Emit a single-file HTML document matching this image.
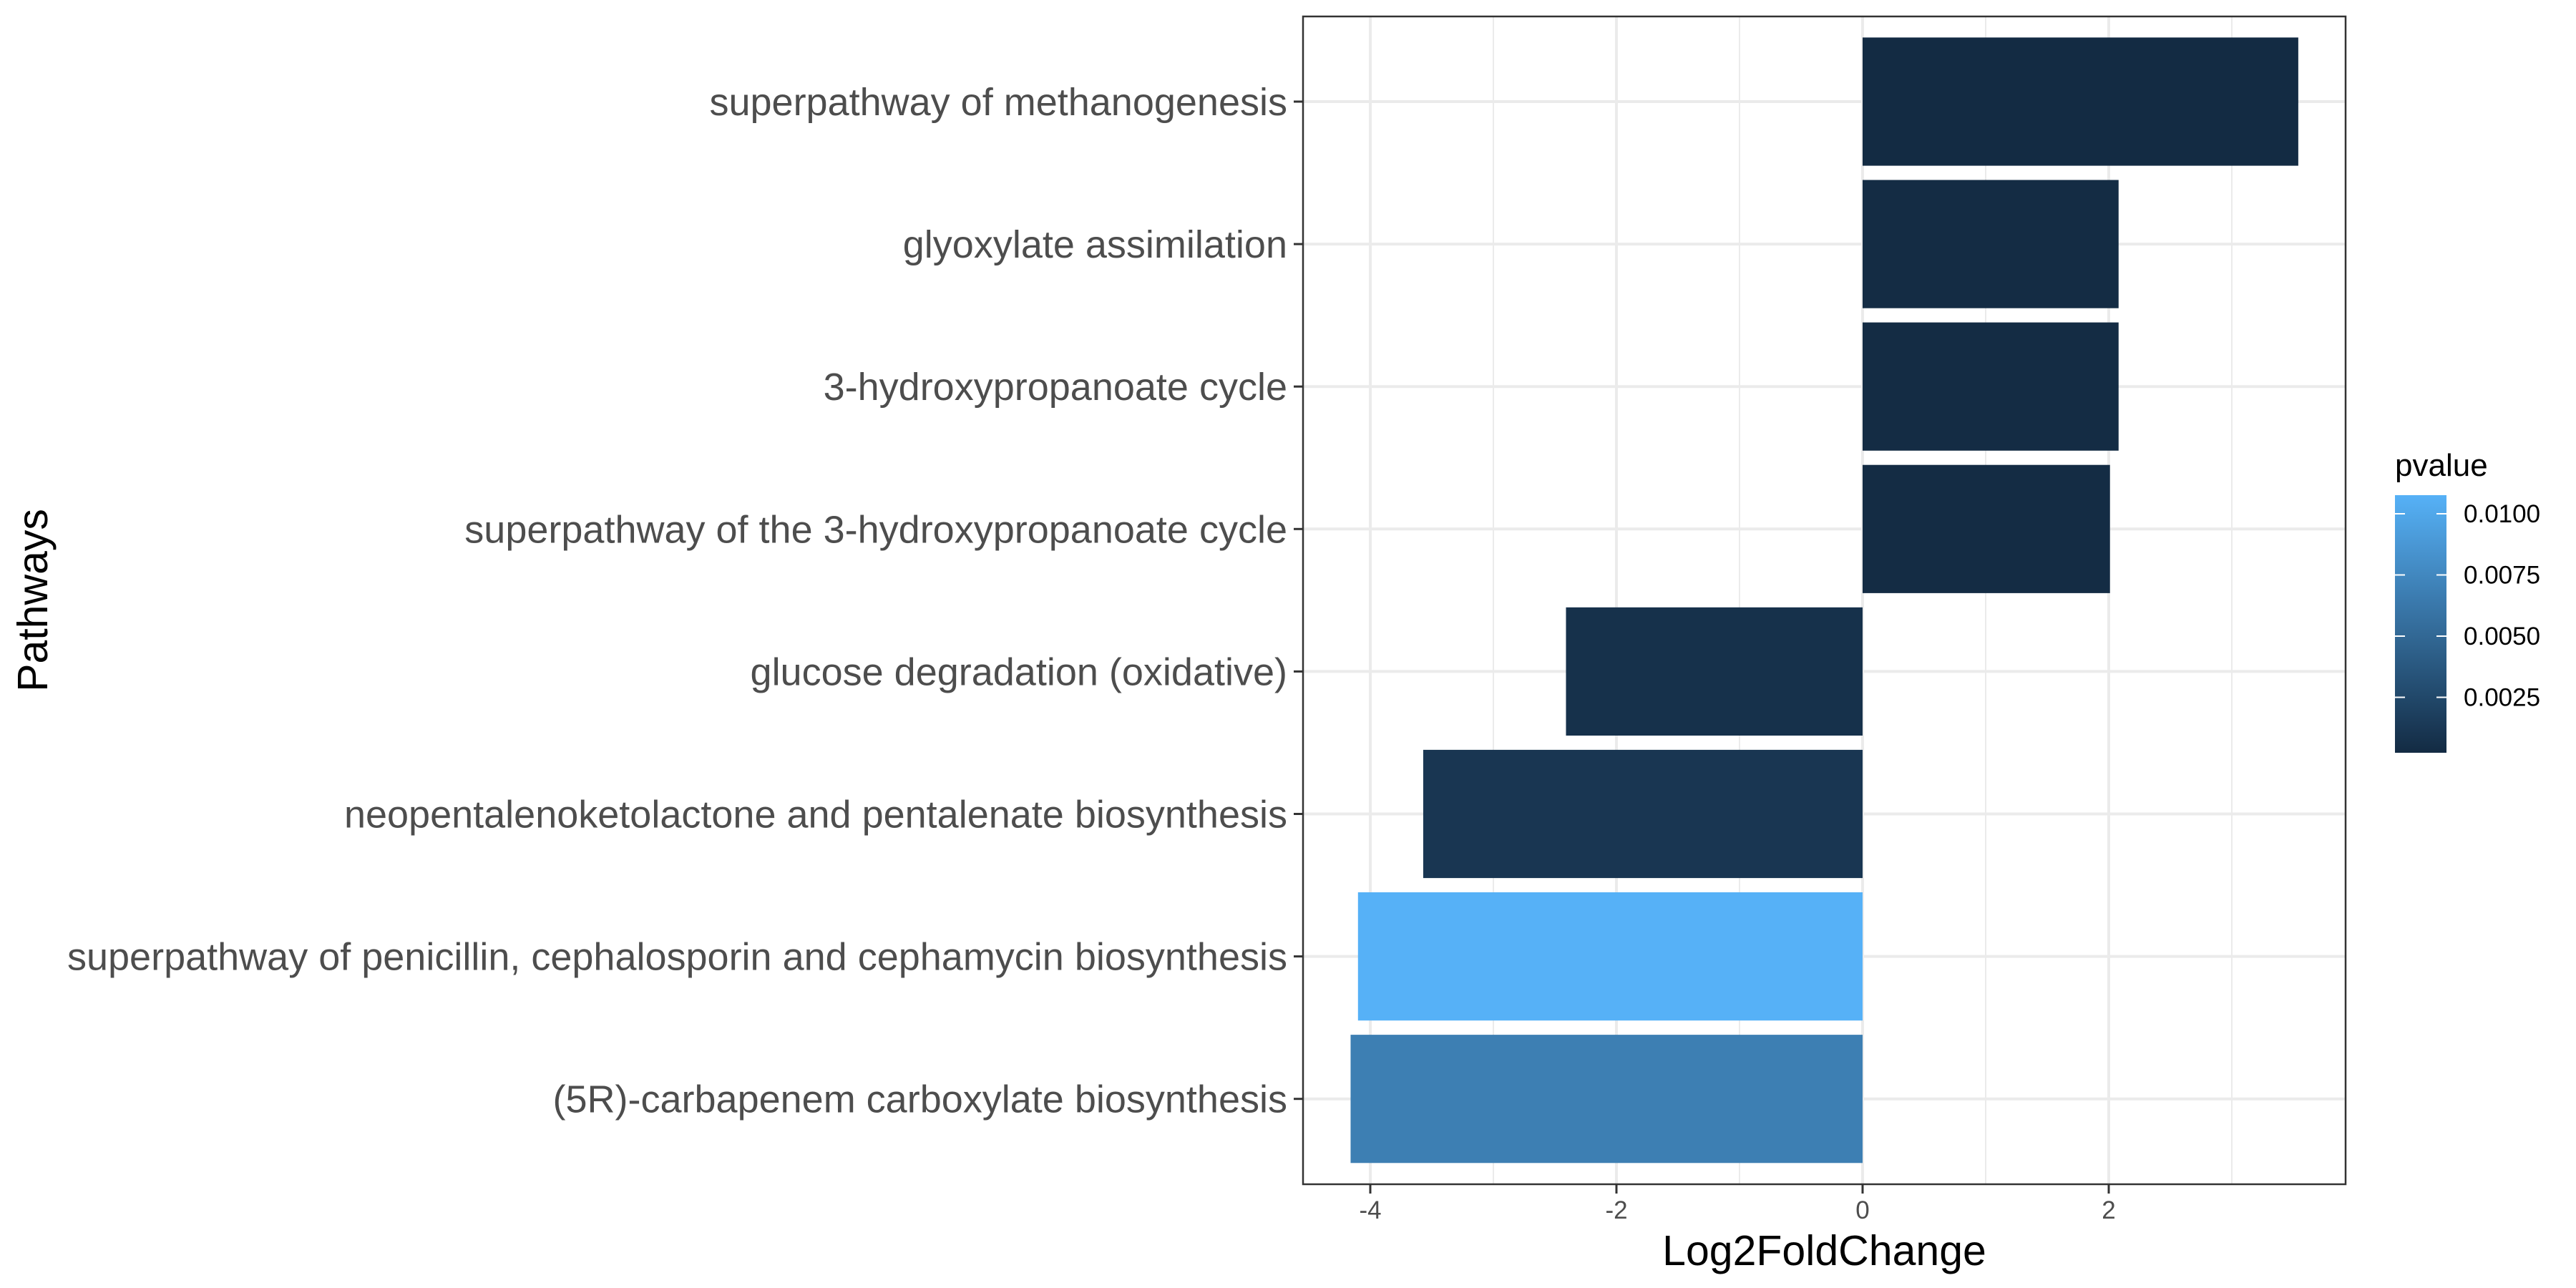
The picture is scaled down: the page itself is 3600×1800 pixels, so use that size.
<!DOCTYPE html>
<html><head><meta charset="utf-8">
<style>
html,body{margin:0;padding:0;background:#fff;}
svg{display:block;font-family:"Liberation Sans",Arial,sans-serif;}
</style></head>
<body>
<svg id="chart" width="3600" height="1800" viewBox="0 0 3600 1800" xmlns="http://www.w3.org/2000/svg"></svg>
<script>
const categories = ["superpathway of methanogenesis","glyoxylate assimilation","3-hydroxypropanoate cycle","superpathway of the 3-hydroxypropanoate cycle","glucose degradation (oxidative)","neopentalenoketolactone and pentalenate biosynthesis","superpathway of penicillin, cephalosporin and cephamycin biosynthesis","(5R)-carbapenem carboxylate biosynthesis"];
const log2fc = [3.54, 2.08, 2.08, 2.01, -2.41, -3.57, -4.10, -4.16];
const pvalues = [0.00022, 0.0003, 0.0003, 0.0003, 0.0007, 0.0011, 0.01076, 0.0068];
const xTicks = [-4, -2, 0, 2];
const xMinor = [-3, -1, 1, 3];
const legendTicks = [0.0025, 0.0050, 0.0075, 0.0100];
const legendLabels = ["0.0025", "0.0050", "0.0075", "0.0100"];

const NS = "http://www.w3.org/2000/svg";
const svg = document.getElementById("chart");
const P = {l:1821, r:3278, t:23, b:1655};
const X0 = 2603, XU = 172;
const x = v => X0 + v * XU;
const ROW0 = 142, ROWS = 199.1;
const y = i => ROW0 + i * ROWS;
const pMin = Math.min(...pvalues), pMax = Math.max(...pvalues);
const lo = [19,43,67], hi = [86,177,247];
function col(p){const t=(p-pMin)/(pMax-pMin);return "rgb("+lo.map((c,k)=>Math.round(c+(hi[k]-c)*t)).join(",")+")";}
function el(tag, attrs, parent){const e=document.createElementNS(NS,tag);for(const k in attrs)e.setAttribute(k,attrs[k]);(parent||svg).appendChild(e);return e;}

el("rect",{x:P.l,y:P.t,width:P.r-P.l,height:P.b-P.t,fill:"#fff"});
xMinor.forEach(v=>{const g=el("line",{x1:x(v),x2:x(v),y1:P.t,y2:P.b,stroke:"#ebebeb","stroke-width":2});

});
xTicks.forEach(v=>{const g=el("line",{x1:x(v),x2:x(v),y1:P.t,y2:P.b,stroke:"#ebebeb","stroke-width":4});

});
categories.forEach((c,i)=>{const g=el("line",{x1:P.l,x2:P.r,y1:y(i),y2:y(i),stroke:"#ebebeb","stroke-width":4});

});

const bh = ROWS*0.9;
log2fc.forEach((v,i)=>{
  const r=el("rect",{x:Math.min(x(0),x(v)),y:y(i)-bh/2,width:Math.abs(x(v)-x(0)),height:bh,fill:col(pvalues[i])});
  
  
});
const border=el("rect",{x:P.l,y:P.t,width:P.r-P.l,height:P.b-P.t,fill:"none",stroke:"#333","stroke-width":2.5});



categories.forEach((c,i)=>{
  el("line",{x1:P.l-13,x2:P.l,y1:y(i),y2:y(i),stroke:"#333","stroke-width":3});
  const t=el("text",{x:P.l-22,y:y(i)+19,"text-anchor":"end","font-size":54,fill:"#4d4d4d"});
  t.textContent=c;
  
  
});
xTicks.forEach(v=>{
  el("line",{x1:x(v),x2:x(v),y1:P.b,y2:P.b+13,stroke:"#333","stroke-width":3});
  const t=el("text",{x:x(v),y:1703,"text-anchor":"middle","font-size":35,fill:"#4d4d4d"});
  t.textContent=String(v);
  
  
});
const xt=el("text",{x:(P.l+P.r)/2,y:1768,"text-anchor":"middle","font-size":59,fill:"#000"});
xt.textContent="Log2FoldChange";


const yt=el("text",{x:0,y:0,"text-anchor":"middle","font-size":59,fill:"#000",transform:"translate(66,839) rotate(-90)"});
yt.textContent="Pathways";



// legend
const LT=692, LB=1052, LL=3347, LR=3419;
const lp = v => 718 + (0.0100 - v)/0.0025*85.5;
const defs=el("defs",{});
const grad=el("linearGradient",{id:"pg",x1:0,y1:1,x2:0,y2:0},defs);
for(let k=0;k<=10;k++){const pv=lp(pMin)+(lp(pMax)-lp(pMin))*k/10;el("stop",{offset:((LB-pv)/(LB-LT)).toFixed(3),"stop-color":col(pMin+(pMax-pMin)*k/10)},grad);}
const lt=el("text",{x:LL,y:665,"font-size":44,fill:"#000"});
lt.textContent="pvalue";


const cb=el("rect",{x:LL,y:LT,width:LR-LL,height:LB-LT,fill:"url(#pg)"});


legendTicks.forEach((v,k)=>{
  el("line",{x1:LL,x2:LL+14,y1:lp(v),y2:lp(v),stroke:"#fff","stroke-width":2});
  el("line",{x1:LR-14,x2:LR,y1:lp(v),y2:lp(v),stroke:"#fff","stroke-width":2});
  const t=el("text",{x:3443,y:lp(v)+12,"font-size":35,fill:"#000"});
  t.textContent=legendLabels[k];
  
  
});
</script>
</body></html>
